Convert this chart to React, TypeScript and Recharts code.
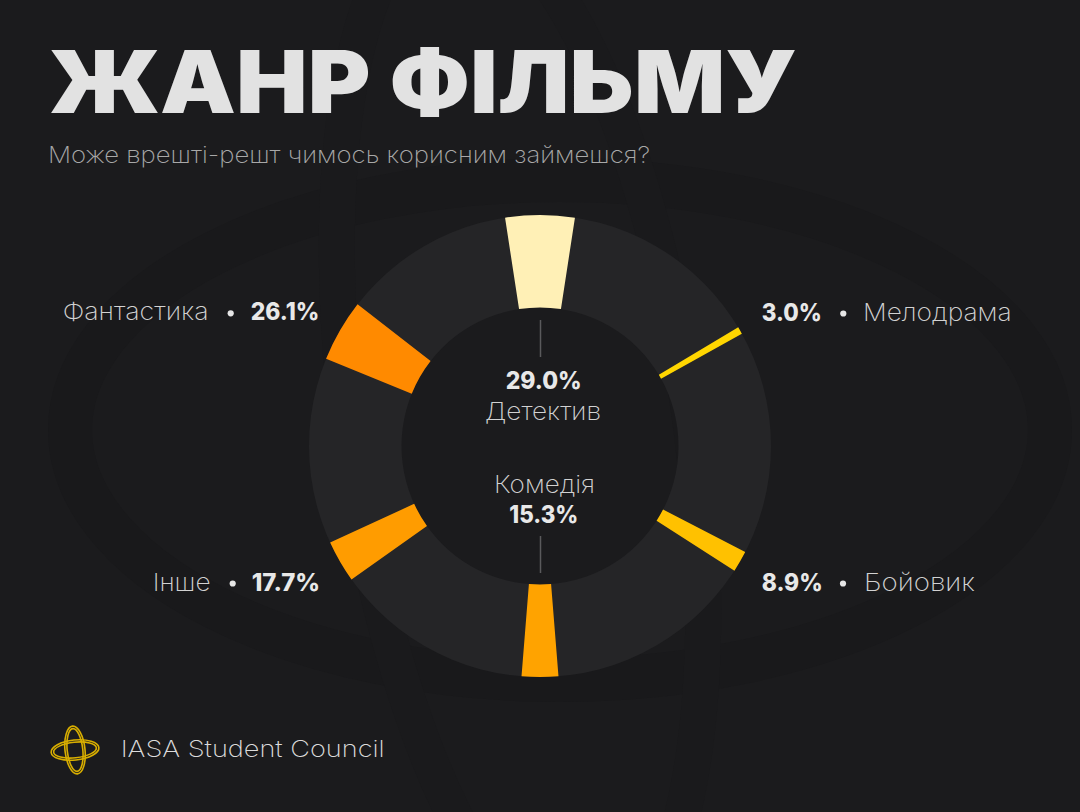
import React from 'react';
import { PieChart, Pie, Cell } from 'recharts';

// ---- data ----
const categories = ['Детектив', 'Мелодрама', 'Бойовик', 'Комедія', 'Інше', 'Фантастика'];
const shares = [29.0, 3.0, 8.9, 15.3, 17.7, 26.1];
const shareLabels = ['29.0%', '3.0%', '8.9%', '15.3%', '17.7%', '26.1%'];
const colors = ['#FFF0B6', '#FFD600', '#FFC100', '#FFA300', '#FF9C00', '#FF8A00'];
const ringData = [{ name: 'ring', value: 1 }];

const title = 'ЖАНР ФІЛЬМУ';
const subtitle = 'Може врешті-решт чимось корисним займешся?';
const brand = 'IASA Student Council';

// ---- layout ----
const W = 1080;
const H = 812;
const CX = 540;
const CY = 446;
const R_IN = 138.5;
const R_OUT = 231;
const DEG_PER_PCT = 0.6;
const STEP = 360 / categories.length;

const pieData = categories.flatMap((name, i) => {
  const w = shares[i] * DEG_PER_PCT;
  const wn = shares[(i + 1) % categories.length] * DEG_PER_PCT;
  return [
    { name, value: w, color: colors[i] },
    { name: `gap-${i}`, value: STEP - (w + wn) / 2, color: 'none' },
  ];
});
const START = 90 + (shares[0] * DEG_PER_PCT) / 2;

const FONT = 'Inter, "Noto Sans", sans-serif';
const LIGHT = 200;

const Dot = ({ x, y }: { x: number; y: number }) => <circle cx={x} cy={y} r={3.1} fill="#e6e6e6" />;

export default function App() {
  return (
    <div style={{ position: 'absolute', left: 0, top: 0, width: W, height: H, background: '#1b1b1d', overflow: 'hidden' }}>
      {/* background decoration */}
      <svg width={W} height={H} style={{ position: 'absolute', left: 0, top: 0 }}>
        <ellipse cx={560} cy={430} rx={490} ry={250} fill="none" stroke="#19191b" strokeWidth={44} />
        <ellipse cx={520} cy={430} rx={170} ry={520} fill="none" stroke="#1a1a1c" strokeWidth={36} transform="rotate(-8 520 430)" />
      </svg>

      <div style={{ position: 'absolute', left: 0, top: 0 }}>
        <PieChart width={W} height={H} margin={{ top: 0, right: 0, bottom: 0, left: 0 }}>
          <Pie
            data={ringData}
            dataKey="value"
            cx={CX}
            cy={CY}
            innerRadius={R_IN}
            outerRadius={R_OUT}
            startAngle={90}
            endAngle={-270}
            stroke="none"
            fill="#252527"
            isAnimationActive={false}
          />
          <Pie
            data={pieData}
            dataKey="value"
            cx={CX}
            cy={CY}
            innerRadius={R_IN}
            outerRadius={R_OUT}
            startAngle={START}
            endAngle={START - 360}
            paddingAngle={0}
            stroke="none"
            isAnimationActive={false}
          >
            {pieData.map((d, i) => (
              <Cell key={i} fill={d.color} />
            ))}
          </Pie>
        </PieChart>
      </div>

      <svg width={W} height={H} style={{ position: 'absolute', left: 0, top: 0, pointerEvents: 'none' }}>
        {/* title */}
        <text x={49} y={112.5} fontFamily={FONT} fontWeight={900} fontSize={86} fill="#e2e2e2" textLength={748} lengthAdjust="spacingAndGlyphs">
          {title}
        </text>
        <text x={48} y={163} fontFamily={FONT} fontWeight={LIGHT} fontSize={23} fill="#a8a8a8" textLength={602} lengthAdjust="spacingAndGlyphs">
          {subtitle}
        </text>

        {/* leader lines */}
        <line x1={540.5} y1={320} x2={540.5} y2={357} stroke="#5a5a5c" strokeWidth={1.5} />
        <line x1={540.5} y1={536} x2={540.5} y2={573} stroke="#5a5a5c" strokeWidth={1.5} />

        {/* center labels */}
        <text x={505.7} y={389} fontFamily={FONT} fontWeight={800} fontSize={24} fill="#e8e8e8" textLength={76} lengthAdjust="spacingAndGlyphs">
          {shareLabels[0]}
        </text>
        <text x={485} y={420} fontFamily={FONT} fontWeight={LIGHT} fontSize={24} fill="#d2d2d2" textLength={116} lengthAdjust="spacingAndGlyphs">
          {categories[0]}
        </text>
        <text x={494} y={493} fontFamily={FONT} fontWeight={LIGHT} fontSize={24} fill="#d2d2d2" textLength={101} lengthAdjust="spacingAndGlyphs">
          {categories[3]}
        </text>
        <text x={509.3} y={523} fontFamily={FONT} fontWeight={800} fontSize={24} fill="#e8e8e8" textLength={69} lengthAdjust="spacingAndGlyphs">
          {shareLabels[3]}
        </text>

        {/* Фантастика */}
        <text x={62.7} y={320} fontFamily={FONT} fontWeight={LIGHT} fontSize={24} fill="#d2d2d2" textLength={146} lengthAdjust="spacingAndGlyphs">
          {categories[5]}
        </text>
        <Dot x={230.7} y={313.3} />
        <text x={250.7} y={320} fontFamily={FONT} fontWeight={800} fontSize={24} fill="#e8e8e8" textLength={68.6} lengthAdjust="spacingAndGlyphs">
          {shareLabels[5]}
        </text>

        {/* Мелодрама */}
        <text x={761.7} y={320.5} fontFamily={FONT} fontWeight={800} fontSize={24} fill="#e8e8e8" textLength={60} lengthAdjust="spacingAndGlyphs">
          {shareLabels[1]}
        </text>
        <Dot x={843.3} y={313.5} />
        <text x={863} y={320.5} fontFamily={FONT} fontWeight={LIGHT} fontSize={24} fill="#d2d2d2" textLength={148.7} lengthAdjust="spacingAndGlyphs">
          {categories[1]}
        </text>

        {/* Інше */}
        <text x={152.7} y={590.5} fontFamily={FONT} fontWeight={LIGHT} fontSize={24} fill="#d2d2d2" textLength={58} lengthAdjust="spacingAndGlyphs">
          {categories[4]}
        </text>
        <Dot x={232.7} y={583.5} />
        <text x={251.7} y={590.5} fontFamily={FONT} fontWeight={800} fontSize={24} fill="#e8e8e8" textLength={68.3} lengthAdjust="spacingAndGlyphs">
          {shareLabels[4]}
        </text>

        {/* Бойовик */}
        <text x={761.7} y={590.5} fontFamily={FONT} fontWeight={800} fontSize={24} fill="#e8e8e8" textLength={61} lengthAdjust="spacingAndGlyphs">
          {shareLabels[2]}
        </text>
        <Dot x={843} y={583.5} />
        <text x={864} y={590.5} fontFamily={FONT} fontWeight={LIGHT} fontSize={24} fill="#d2d2d2" textLength={111} lengthAdjust="spacingAndGlyphs">
          {categories[2]}
        </text>

        {/* logo */}
        <g fill="none" stroke="#D8AE00" strokeWidth={1.6}>
          <ellipse cx={75} cy={750} rx={24} ry={10} transform="rotate(-6 75 750)" />
          <ellipse cx={75} cy={750} rx={21.5} ry={7.8} transform="rotate(-6 75 750)" />
          <ellipse cx={75} cy={750} rx={10} ry={24} transform="rotate(-6 75 750)" />
          <ellipse cx={75} cy={750} rx={7.8} ry={21.5} transform="rotate(-6 75 750)" />
        </g>
        <text x={120.7} y={757.3} fontFamily={FONT} fontWeight={LIGHT} fontSize={23} fill="#dcdcdc" textLength={264} lengthAdjust="spacingAndGlyphs">
          {brand}
        </text>
      </svg>
    </div>
  );
}
